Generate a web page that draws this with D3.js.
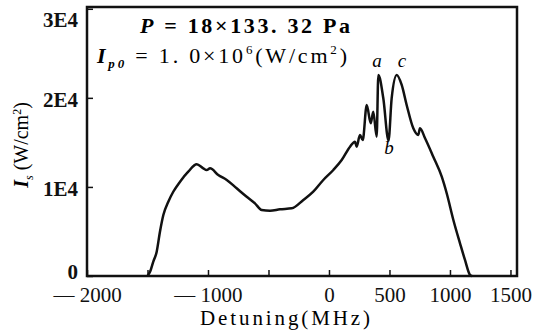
<!DOCTYPE html>
<html>
<head>
<meta charset="utf-8">
<script src="https://cdn.jsdelivr.net/npm/d3@7"></script>
<style>
  body { margin: 0; background: #fff; }
</style>
</head>
<body>
<div id="chart"></div>
<script>
// Detuning (MHz) vs intensity (W/cm^2)
const detuning = [-1500, -1478, -1452, -1424, -1397, -1369, -1328, -1287, -1231, -1163, -1093,
    -1039, -1011, -983, -915, -845, -763, -680, -612, -556, -487, -405, -308, -212, -130, -47, 36,
    105, 174, 215, 229, 256, 279, 312, 345, 366, 394, 408, 449, 492, 518, 560, 601, 642, 697, 738,
    752, 794, 862, 932, 973, 1028, 1083, 1124, 1166, 1182];
const intensity = [0, 500, 1605, 2730, 4970, 6850, 8340, 9460, 10590, 11710, 12540,
    12090, 11900, 12090, 11340, 10780, 9846, 8900, 8160, 7410, 7330, 7490, 7600, 8530, 9460, 10780, 11900,
    13020, 14520, 15080, 14520, 15830, 15270, 19200, 17140, 18440, 15640, 22570, 19950, 15200, 19950, 22570,
    21450, 19200, 16580, 15830, 16580, 15460, 13390, 11150, 9290, 6290, 3670, 1800, 110, 0];

const xTicks = [-2000, -1500, -1000, -500, 0, 500, 1000, 1500];
const xTickLabels = ['— 2000', '', '— 1000', '', '0', '500', '1000', '1500'];
const yTicks = [0, 10000, 20000, 30000];
const yTickLabels = ['0', '1E4', '2E4', '3E4'];

const width = 546, height = 331;
const m = { left: 87, right: 517, top: 7, bottom: 276 };
const FONT = '"Liberation Serif", "DejaVu Serif", "Times New Roman", serif';

const svg = d3.select('#chart').append('svg')
    .attr('width', width)
    .attr('height', height)
    .style('font-family', FONT);

const x = d3.scaleLinear().domain([-2000, 1554]).range([m.left, m.right]);
const y = d3.scaleLinear().domain([0, 30200]).range([m.bottom, m.top]);

// frame
svg.append('rect')
    .attr('x', m.left).attr('y', m.top)
    .attr('width', m.right - m.left).attr('height', m.bottom - m.top)
    .attr('fill', 'none')
    .attr('stroke', '#111')
    .attr('stroke-width', 2.5);

// x axis, ticks pointing inward
const xAxis = svg.append('g')
    .attr('transform', `translate(0,${m.bottom})`)
    .call(d3.axisBottom(x)
        .tickValues(xTicks)
        .tickSize(-6)
        .tickPadding(12)
        .tickFormat((d, i) => xTickLabels[i]));
xAxis.attr('font-family', null);
xAxis.select('.domain').remove();
xAxis.selectAll('line').attr('stroke', '#111').attr('stroke-width', 1.5);
xAxis.selectAll('text')
    .attr('fill', '#111')
    .style('font-family', FONT)
    .style('font-size', '21px')
    .attr('dy', '0.85em')
    .attr('y', 8);

// y axis, ticks pointing inward
const yAxis = svg.append('g')
    .attr('transform', `translate(${m.left},0)`)
    .call(d3.axisLeft(y)
        .tickValues(yTicks)
        .tickSize(-6)
        .tickPadding(9)
        .tickFormat((d, i) => yTickLabels[i]));
yAxis.attr('font-family', null);
yAxis.select('.domain').remove();
yAxis.selectAll('line').attr('stroke', '#111').attr('stroke-width', 1.5);
yAxis.selectAll('text')
    .attr('fill', '#111')
    .style('font-family', FONT)
    .style('font-size', '21px')
    .style('font-weight', 'bold')
    .attr('dy', (d) => d === 30000 ? '0.85em' : (d === 0 ? '0.1em' : '0.4em'));

// curve
const line = d3.line()
    .x((d, i) => x(detuning[i]))
    .y(d => y(d))
    .curve(d3.curveMonotoneX);

svg.append('path')
    .datum(intensity)
    .attr('fill', 'none')
    .attr('stroke', '#111')
    .attr('stroke-width', 2.5)
    .attr('stroke-linejoin', 'round')
    .attr('d', line);

// annotations
const t1 = svg.append('text')
    .attr('x', 140).attr('y', 33)
    .attr('textLength', 210)
    .attr('lengthAdjust', 'spacing')
    .style('font-size', '22px')
    .style('font-weight', 'bold');
t1.append('tspan').style('font-style', 'italic').text('P');
t1.append('tspan').text(' = 18×133. 32 Pa');

const t2 = svg.append('text')
    .attr('x', 97).attr('y', 63)
    .attr('textLength', 250)
    .attr('lengthAdjust', 'spacing')
    .style('font-size', '22px');
t2.append('tspan').style('font-style', 'italic').style('font-weight', 'bold').text('I');
t2.append('tspan').attr('dy', 5).style('font-size', '13px').style('font-style', 'italic').style('font-weight', 'bold').text('p0');
t2.append('tspan').attr('dy', -5).text(' = 1. 0×10');
t2.append('tspan').attr('dy', -9).style('font-size', '13px').text('6');
t2.append('tspan').attr('dy', 9).text('(W/cm');
t2.append('tspan').attr('dy', -9).style('font-size', '13px').text('2');
t2.append('tspan').attr('dy', 9).text(')');

svg.append('text').attr('x', 377).attr('y', 67).attr('text-anchor', 'middle')
    .style('font-size', '19px').style('font-style', 'italic').text('a');
svg.append('text').attr('x', 402).attr('y', 67).attr('text-anchor', 'middle')
    .style('font-size', '19px').style('font-style', 'italic').text('c');
svg.append('text').attr('x', 389).attr('y', 154).attr('text-anchor', 'middle')
    .style('font-size', '19px').style('font-style', 'italic').text('b');

// axis titles
const yl = svg.append('text')
    .attr('transform', 'translate(28,145) rotate(-90)')
    .attr('text-anchor', 'middle')
    .style('font-size', '20px');
yl.append('tspan').style('font-style', 'italic').style('font-weight', 'bold').text('I');
yl.append('tspan').attr('dy', 5).style('font-size', '12px').style('font-style', 'italic').text('s');
yl.append('tspan').attr('dy', -5).text(' (W/cm');
yl.append('tspan').attr('dy', -7).style('font-size', '12px').text('2');
yl.append('tspan').attr('dy', 7).text(')');

svg.append('text')
    .attr('x', 285).attr('y', 325)
    .attr('text-anchor', 'middle')
    .attr('textLength', 170)
    .attr('lengthAdjust', 'spacing')
    .style('font-size', '21px')
    .text('Detuning(MHz)');
</script>
</body>
</html>
